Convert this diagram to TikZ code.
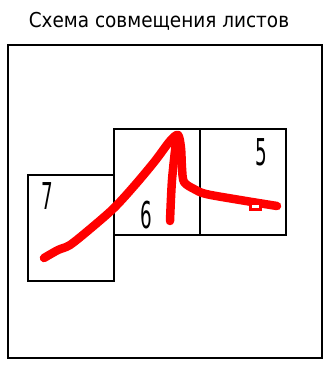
\documentclass[tikz,border=0pt]{standalone}
\usepackage{fontspec}
\setmainfont{DejaVu Sans Condensed}
\begin{document}
\begin{tikzpicture}[x=1pt,y=-1pt,
  sheet/.style={draw=black,line width=1.5pt,minimum width=86pt,minimum height=106pt,inner sep=0pt},
  num/.style={inner sep=0pt,font=\fontsize{37}{37}\selectfont,xscale=0.55},
  redstroke/.style={draw=red,line width=8.5pt,line cap=round,line join=round}]
\useasboundingbox (0,0) rectangle (327,366);
\node[draw=black,line width=1.2pt,minimum width=314pt,minimum height=313pt,inner sep=0pt] (frame) at (165,201.5) {};
\node[inner sep=0pt,font=\fontsize{20.5}{20.5}\selectfont] (title) at (159,21) {Схема совмещения листов};
\node[sheet] (s7) at (71,228) {};
\node[sheet] (s6) at (157,182) {};
\node[sheet] (s5) at (243,182) {};
\node[num] (n7) at (47,196) {7};
\node[num] (n6) at (146,215) {6};
\node[num] (n5) at (261,152) {5};
\draw[redstroke] plot[smooth,tension=0.5] coordinates {(44,258) (58,250) (70,245) (90,229) (114,208) (135,185) (155,161) (170,141) (178,135) (181,148) (182,168) (184,182) (194,189) (206,194) (240,200) (277,206)};
\draw[redstroke] plot[smooth,tension=0.5] coordinates {(176,142) (172,180) (170,221)};
\draw[red,line width=3pt,fill=white] (250,203.5) rectangle (260,209.5);
\end{tikzpicture}
\end{document}
